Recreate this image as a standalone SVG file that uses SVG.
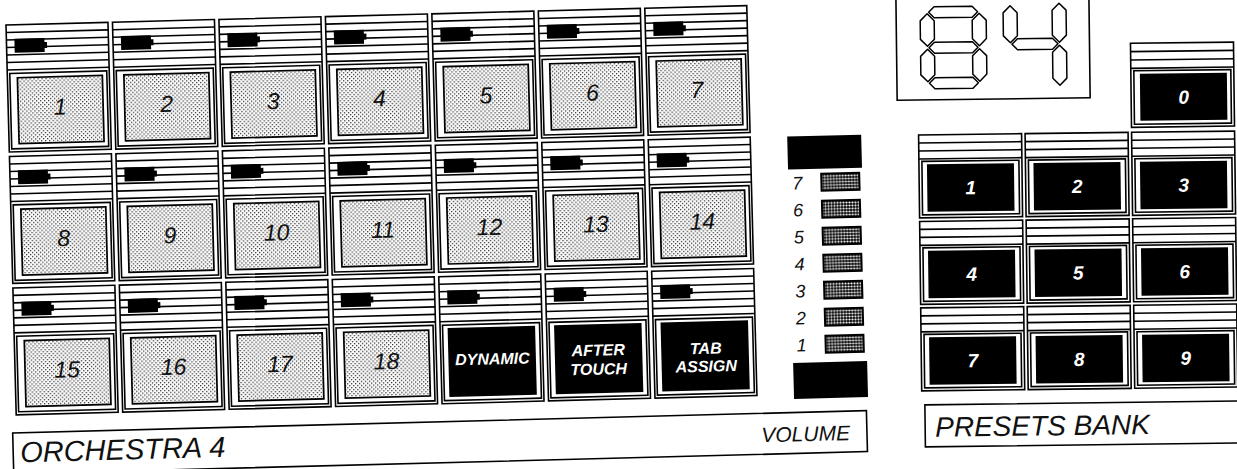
<svg xmlns="http://www.w3.org/2000/svg" xmlns:xlink="http://www.w3.org/1999/xlink" width="1237" height="469" viewBox="0 0 1237 469">
<style>
.ln{fill:none;stroke:#000;stroke-width:1.6}
.wf{fill:#fff;stroke:#000;stroke-width:1.6}
.shade{fill:url(#dots);stroke:#000;stroke-width:1.7}
.blk{fill:#000}
.num{font-family:"Liberation Sans",Arial,sans-serif;font-style:italic;font-size:23px;text-anchor:middle;fill:#111}
.btn{font-family:"Liberation Sans",Arial,sans-serif;font-style:italic;font-weight:bold;font-size:16px;text-anchor:middle;fill:#fff}
.pnum{font-family:"Liberation Sans",Arial,sans-serif;font-style:italic;font-weight:bold;font-size:19px;text-anchor:middle;fill:#fff}
.vl{font-family:"Liberation Sans",Arial,sans-serif;font-style:italic;font-size:18px;text-anchor:middle;fill:#111}
.lbl{font-family:"Liberation Sans",Arial,sans-serif;font-style:italic;fill:#111}
.seg{fill:#fff;stroke:#000;stroke-width:1.5;stroke-linejoin:round}
.vbar{fill:url(#dense);stroke:#000;stroke-width:2}
</style>
<defs>
<pattern id="dots" width="4" height="4" patternUnits="userSpaceOnUse"><rect width="4" height="4" fill="#fff"/><rect x="0" y="0" width="1.3" height="1.3" fill="#333"/><rect x="2" y="2" width="1.3" height="1.3" fill="#333"/></pattern>
<pattern id="dense" width="3" height="3" patternUnits="userSpaceOnUse"><rect width="3" height="3" fill="#000"/><circle cx="1.5" cy="1.5" r="1.1" fill="#fff"/></pattern>
<g id="padFrame">
<rect class="wf" x="0" y="0" width="102" height="127"/>
<path class="ln" d="M0 7.5H102M0 15H102M0 22.5H102M0 30H102M0 37.5H102M0 45H102"/>
<rect class="ln" x="2.5" y="48.5" width="97" height="75.5"/>
<rect class="blk" x="8" y="14" width="30" height="14"/>
<rect class="blk" x="37" y="18" width="3.5" height="6"/>
</g>
<g id="presetFrame">
<rect class="wf" x="0" y="0" width="103" height="83"/>
<path class="ln" d="M0 8H103M0 16H103M0 24H103"/>
<rect class="ln" x="3" y="26.5" width="97" height="53.5"/>
<rect class="blk" x="8" y="29.5" width="87" height="47.5"/>
</g>
</defs>
<rect width="1237" height="469" fill="#fff"/>

<g id="panel" transform="translate(6 25) rotate(-1.5)">
<g id="pad-1" transform="translate(0 0)"><use href="#padFrame"/><rect class="shade" x="10" y="53" width="85" height="66"/><text class="num" x="52" y="91">1</text></g>
<g id="pad-2" transform="translate(106.5 0)"><use href="#padFrame"/><rect class="shade" x="10" y="53" width="85" height="66"/><text class="num" x="52" y="91">2</text></g>
<g id="pad-3" transform="translate(213 0)"><use href="#padFrame"/><rect class="shade" x="10" y="53" width="85" height="66"/><text class="num" x="52" y="91">3</text></g>
<g id="pad-4" transform="translate(319.5 0)"><use href="#padFrame"/><rect class="shade" x="10" y="53" width="85" height="66"/><text class="num" x="52" y="91">4</text></g>
<g id="pad-5" transform="translate(426 0)"><use href="#padFrame"/><rect class="shade" x="10" y="53" width="85" height="66"/><text class="num" x="52" y="91">5</text></g>
<g id="pad-6" transform="translate(532.5 0)"><use href="#padFrame"/><rect class="shade" x="10" y="53" width="85" height="66"/><text class="num" x="52" y="91">6</text></g>
<g id="pad-7" transform="translate(639 0)"><use href="#padFrame"/><rect class="shade" x="10" y="53" width="85" height="66"/><text class="num" x="50" y="91">7</text></g>

<g id="pad-8" transform="translate(0 131.5)"><use href="#padFrame"/><rect class="shade" x="10" y="53" width="85" height="66"/><text class="num" x="52" y="91">8</text></g>
<g id="pad-9" transform="translate(106.5 131.5)"><use href="#padFrame"/><rect class="shade" x="10" y="53" width="85" height="66"/><text class="num" x="52" y="91">9</text></g>
<g id="pad-10" transform="translate(213 131.5)"><use href="#padFrame"/><rect class="shade" x="10" y="53" width="85" height="66"/><text class="num" x="52" y="91">10</text></g>
<g id="pad-11" transform="translate(319.5 131.5)"><use href="#padFrame"/><rect class="shade" x="10" y="53" width="85" height="66"/><text class="num" x="52" y="91">11</text></g>
<g id="pad-12" transform="translate(426 131.5)"><use href="#padFrame"/><rect class="shade" x="10" y="53" width="85" height="66"/><text class="num" x="52" y="91">12</text></g>
<g id="pad-13" transform="translate(532.5 131.5)"><use href="#padFrame"/><rect class="shade" x="10" y="53" width="85" height="66"/><text class="num" x="52" y="91">13</text></g>
<g id="pad-14" transform="translate(639 131.5)"><use href="#padFrame"/><rect class="shade" x="10" y="53" width="85" height="66"/><text class="num" x="52" y="91">14</text></g>

<g id="pad-15" transform="translate(0 263)"><use href="#padFrame"/><rect class="shade" x="10" y="53" width="85" height="66"/><text class="num" x="52" y="91">15</text></g>
<g id="pad-16" transform="translate(106.5 263)"><use href="#padFrame"/><rect class="shade" x="10" y="53" width="85" height="66"/><text class="num" x="52" y="91">16</text></g>
<g id="pad-17" transform="translate(213 263)"><use href="#padFrame"/><rect class="shade" x="10" y="53" width="85" height="66"/><text class="num" x="52" y="91">17</text></g>
<g id="pad-18" transform="translate(319.5 263)"><use href="#padFrame"/><rect class="shade" x="10" y="53" width="85" height="66"/><text class="num" x="52" y="91">18</text></g>
<g id="pad-dynamic" transform="translate(426 263)"><use href="#padFrame"/><rect class="blk" x="7.5" y="51.5" width="87.5" height="69"/><text class="btn" x="51.5" y="89">DYNAMIC</text></g>
<g id="pad-aftertouch" transform="translate(532.5 263)"><use href="#padFrame"/><rect class="blk" x="7.5" y="51.5" width="87.5" height="69"/><text class="btn" x="51" y="83">AFTER</text><text class="btn" x="51" y="102">TOUCH</text></g>
<g id="pad-tabassign" transform="translate(639 263)"><use href="#padFrame"/><rect class="blk" x="7.5" y="51.5" width="87.5" height="69"/><text class="btn" x="52" y="84">TAB</text><text class="btn" x="52" y="102">ASSIGN</text></g>

<g id="volume-meter">
<rect class="blk" x="778" y="132" width="74" height="33"/>
<text class="vl" x="787" y="185">7</text><rect class="vbar" x="811" y="170" width="38" height="17"/>
<text class="vl" x="787" y="212">6</text><rect class="vbar" x="811" y="197" width="38" height="17"/>
<text class="vl" x="787" y="239">5</text><rect class="vbar" x="811" y="224" width="38" height="17"/>
<text class="vl" x="787" y="266">4</text><rect class="vbar" x="811" y="251" width="38" height="17"/>
<text class="vl" x="787" y="293">3</text><rect class="vbar" x="811" y="278" width="38" height="17"/>
<text class="vl" x="787" y="320">2</text><rect class="vbar" x="811" y="305" width="38" height="17"/>
<text class="vl" x="787" y="347">1</text><rect class="vbar" x="811" y="332" width="38" height="17"/>
<rect class="blk" x="778" y="358.5" width="74" height="36"/>
</g>

<g id="orchestra-display">
<rect class="wf" x="-4" y="408" width="854" height="41"/>
<text class="lbl" x="3" y="437.5" font-size="29">ORCHESTRA 4</text>
<text class="lbl" x="833" y="437" font-size="21" text-anchor="end">VOLUME</text>
</g>
</g>

<g id="right-panel" transform="rotate(-0.7 1077 250)">
<g id="led-display">
<rect class="wf" x="899" y="-10" width="193" height="108"/>
<g id="digit-8">
<polygon class="seg" points="931.5,10.5 937,5 975,5 980.5,10.5 975,16 937,16"/>
<polygon class="seg" points="931.5,46 937,40.5 975,40.5 980.5,46 975,51.5 937,51.5"/>
<polygon class="seg" points="931.5,81.5 937,76 975,76 980.5,81.5 975,87 937,87"/>
<polygon class="seg" points="930,12 937,19 937,37.5 930,44.5 923,37.5 923,19"/>
<polygon class="seg" points="930,47.5 937,54.5 937,73 930,80 923,73 923,54.5"/>
<polygon class="seg" points="982,12 989,19 989,37.5 982,44.5 975,37.5 975,19"/>
<polygon class="seg" points="982,47.5 989,54.5 989,73 982,80 975,73 975,54.5"/>
</g>
<g id="digit-4">
<polygon class="seg" points="1013,5 1020,12 1020,35 1013,42 1006,35 1006,12"/>
<polygon class="seg" points="1014.5,43.5 1020,38 1055,38 1060.5,43.5 1055,49 1020,49"/>
<polygon class="seg" points="1062,3 1069,10 1069,35 1062,42 1055,35 1055,10"/>
<polygon class="seg" points="1062,45 1069,52 1069,78 1062,85 1055,78 1055,52"/>
</g>
</g>

<g id="preset-0" transform="translate(1133 44)">
<rect class="wf" x="0" y="0" width="103" height="84"/>
<path class="ln" d="M0 8.3H103M0 16.7H103M0 25H103"/>
<rect class="ln" x="3" y="27.5" width="97" height="53.5"/>
<rect class="blk" x="9" y="30.5" width="87" height="47"/>
<text class="pnum" x="52.5" y="61">0</text>
</g>
<g id="preset-1" transform="translate(920 133)"><use href="#presetFrame"/><text class="pnum" x="51.5" y="60">1</text></g>
<g id="preset-2" transform="translate(1026.5 133)"><use href="#presetFrame"/><text class="pnum" x="51.5" y="60">2</text></g>
<g id="preset-3" transform="translate(1133 133)"><use href="#presetFrame"/><text class="pnum" x="51.5" y="60">3</text></g>
<g id="preset-4" transform="translate(920 219.5)"><use href="#presetFrame"/><text class="pnum" x="51.5" y="60">4</text></g>
<g id="preset-5" transform="translate(1026.5 219.5)"><use href="#presetFrame"/><text class="pnum" x="51.5" y="60">5</text></g>
<g id="preset-6" transform="translate(1133 219.5)"><use href="#presetFrame"/><text class="pnum" x="51.5" y="60">6</text></g>
<g id="preset-7" transform="translate(920 306)"><use href="#presetFrame"/><text class="pnum" x="51.5" y="60">7</text></g>
<g id="preset-8" transform="translate(1026.5 306)"><use href="#presetFrame"/><text class="pnum" x="51.5" y="60">8</text></g>
<g id="preset-9" transform="translate(1133 306)"><use href="#presetFrame"/><text class="pnum" x="51.5" y="60">9</text></g>

<g id="presets-bank">
<rect class="wf" x="923" y="403" width="330" height="42"/>
<text class="lbl" x="933" y="435" font-size="28">PRESETS BANK</text>
</g>
</g>
</svg>
